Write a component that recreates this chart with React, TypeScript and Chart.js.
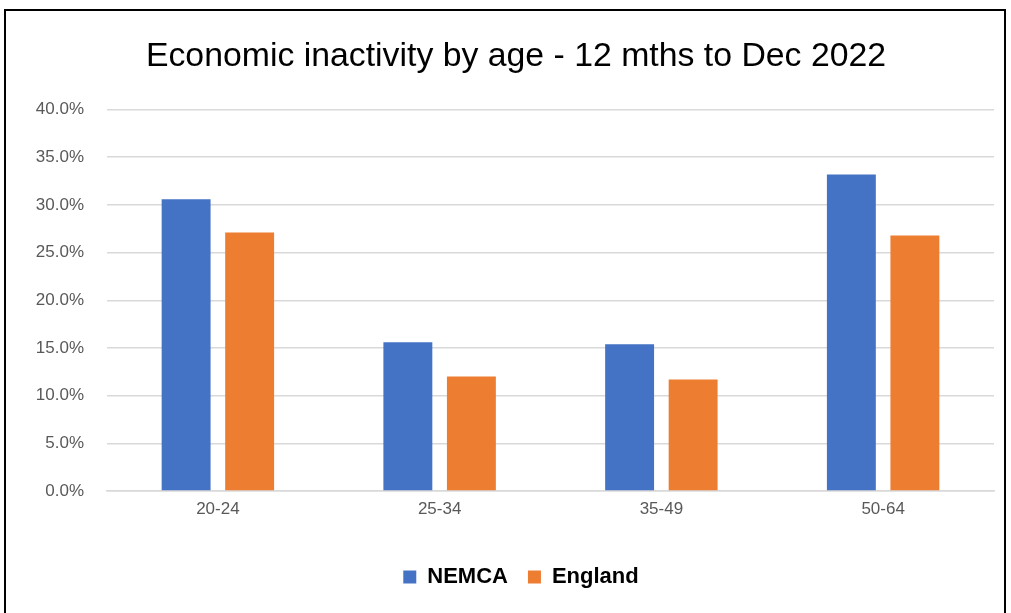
import React, { useEffect, useRef } from "react";
import { Chart, registerables } from "chart.js";

Chart.register(...registerables);

const categories = ["20-24", "25-34", "35-49", "50-64"];
const nemcaValues = [30.6, 15.6, 15.4, 33.2];
const englandValues = [27.1, 12.0, 11.7, 26.8];
const seriesNames = ["NEMCA", "England"];
const titleText = "Economic inactivity by age - 12 mths to Dec 2022";

const shiftBoxes = {
  id: "shiftBoxes",
  afterLayout(chart: any) {
    if (chart.legend) {
      chart.legend.left += 14;
      chart.legend.right += 14;
    }
    if (chart.titleBlock) {
      chart.titleBlock.left += 9;
      chart.titleBlock.right += 9;
    }
  },
};

export default function App() {
  const ref = useRef<HTMLCanvasElement | null>(null);

  useEffect(() => {
    document.body.style.margin = "0";
    const ctx = ref.current;
    if (!ctx) return;
    const chart = new Chart(ctx, {
      type: "bar",
      data: {
        labels: categories,
        datasets: [
          {
            label: seriesNames[0],
            data: nemcaValues,
            backgroundColor: "#4472C4",
            barPercentage: 0.77,
            categoryPercentage: 0.573,
          },
          {
            label: seriesNames[1],
            data: englandValues,
            backgroundColor: "#ED7D31",
            barPercentage: 0.77,
            categoryPercentage: 0.573,
          },
        ],
      },
      plugins: [shiftBoxes],
      options: {
        animation: false,
        responsive: false,
        maintainAspectRatio: false,
        layout: { padding: { left: 20, right: 17, top: 0, bottom: 15 } },
        plugins: {
          title: {
            display: true,
            text: titleText,
            color: "#000000",
            font: { family: "'Liberation Sans', Arial, sans-serif", size: 33.8, weight: "normal" },
            padding: { top: 36, bottom: 33 },
          },
          legend: {
            position: "bottom",
            labels: {
              color: "#000000",
              font: { family: "'Liberation Sans', Arial, sans-serif", size: 22, weight: "bold" },
              boxWidth: 13,
              boxHeight: 13,
              padding: 20,
            },
          },
          tooltip: { enabled: false },
        },
        scales: {
          x: {
            grid: { display: false, drawTicks: false },
            border: { display: true, color: "#D9D9D9", width: 1.5 },
            ticks: {
              color: "#595959",
              font: { family: "'Liberation Sans', Arial, sans-serif", size: 17 },
              padding: 8,
            },
            afterFit: (scale: any) => {
              scale.height = 55;
            },
          },
          y: {
            min: 0,
            max: 40,
            ticks: {
              stepSize: 5,
              color: "#595959",
              font: { family: "'Liberation Sans', Arial, sans-serif", size: 17 },
              padding: 23,
              callback: (v: any) => Number(v).toFixed(1) + "%",
            },
            grid: { color: "#D9D9D9", lineWidth: 1.5, drawTicks: false },
            border: { display: false },
            afterFit: (scale: any) => {
              scale.width = 87;
            },
          },
        },
      },
    });
    return () => chart.destroy();
  }, []);

  return (
    <div style={{ position: "relative", width: 1011, height: 613, overflow: "hidden", background: "#fff" }}>
      <canvas ref={ref} width={1011} height={613} style={{ position: "absolute", left: 0, top: 0 }} />
      <div
        style={{
          position: "absolute",
          left: 4,
          top: 9,
          width: 998,
          height: 640,
          border: "2px solid #000",
          pointerEvents: "none",
        }}
      />
    </div>
  );
}
